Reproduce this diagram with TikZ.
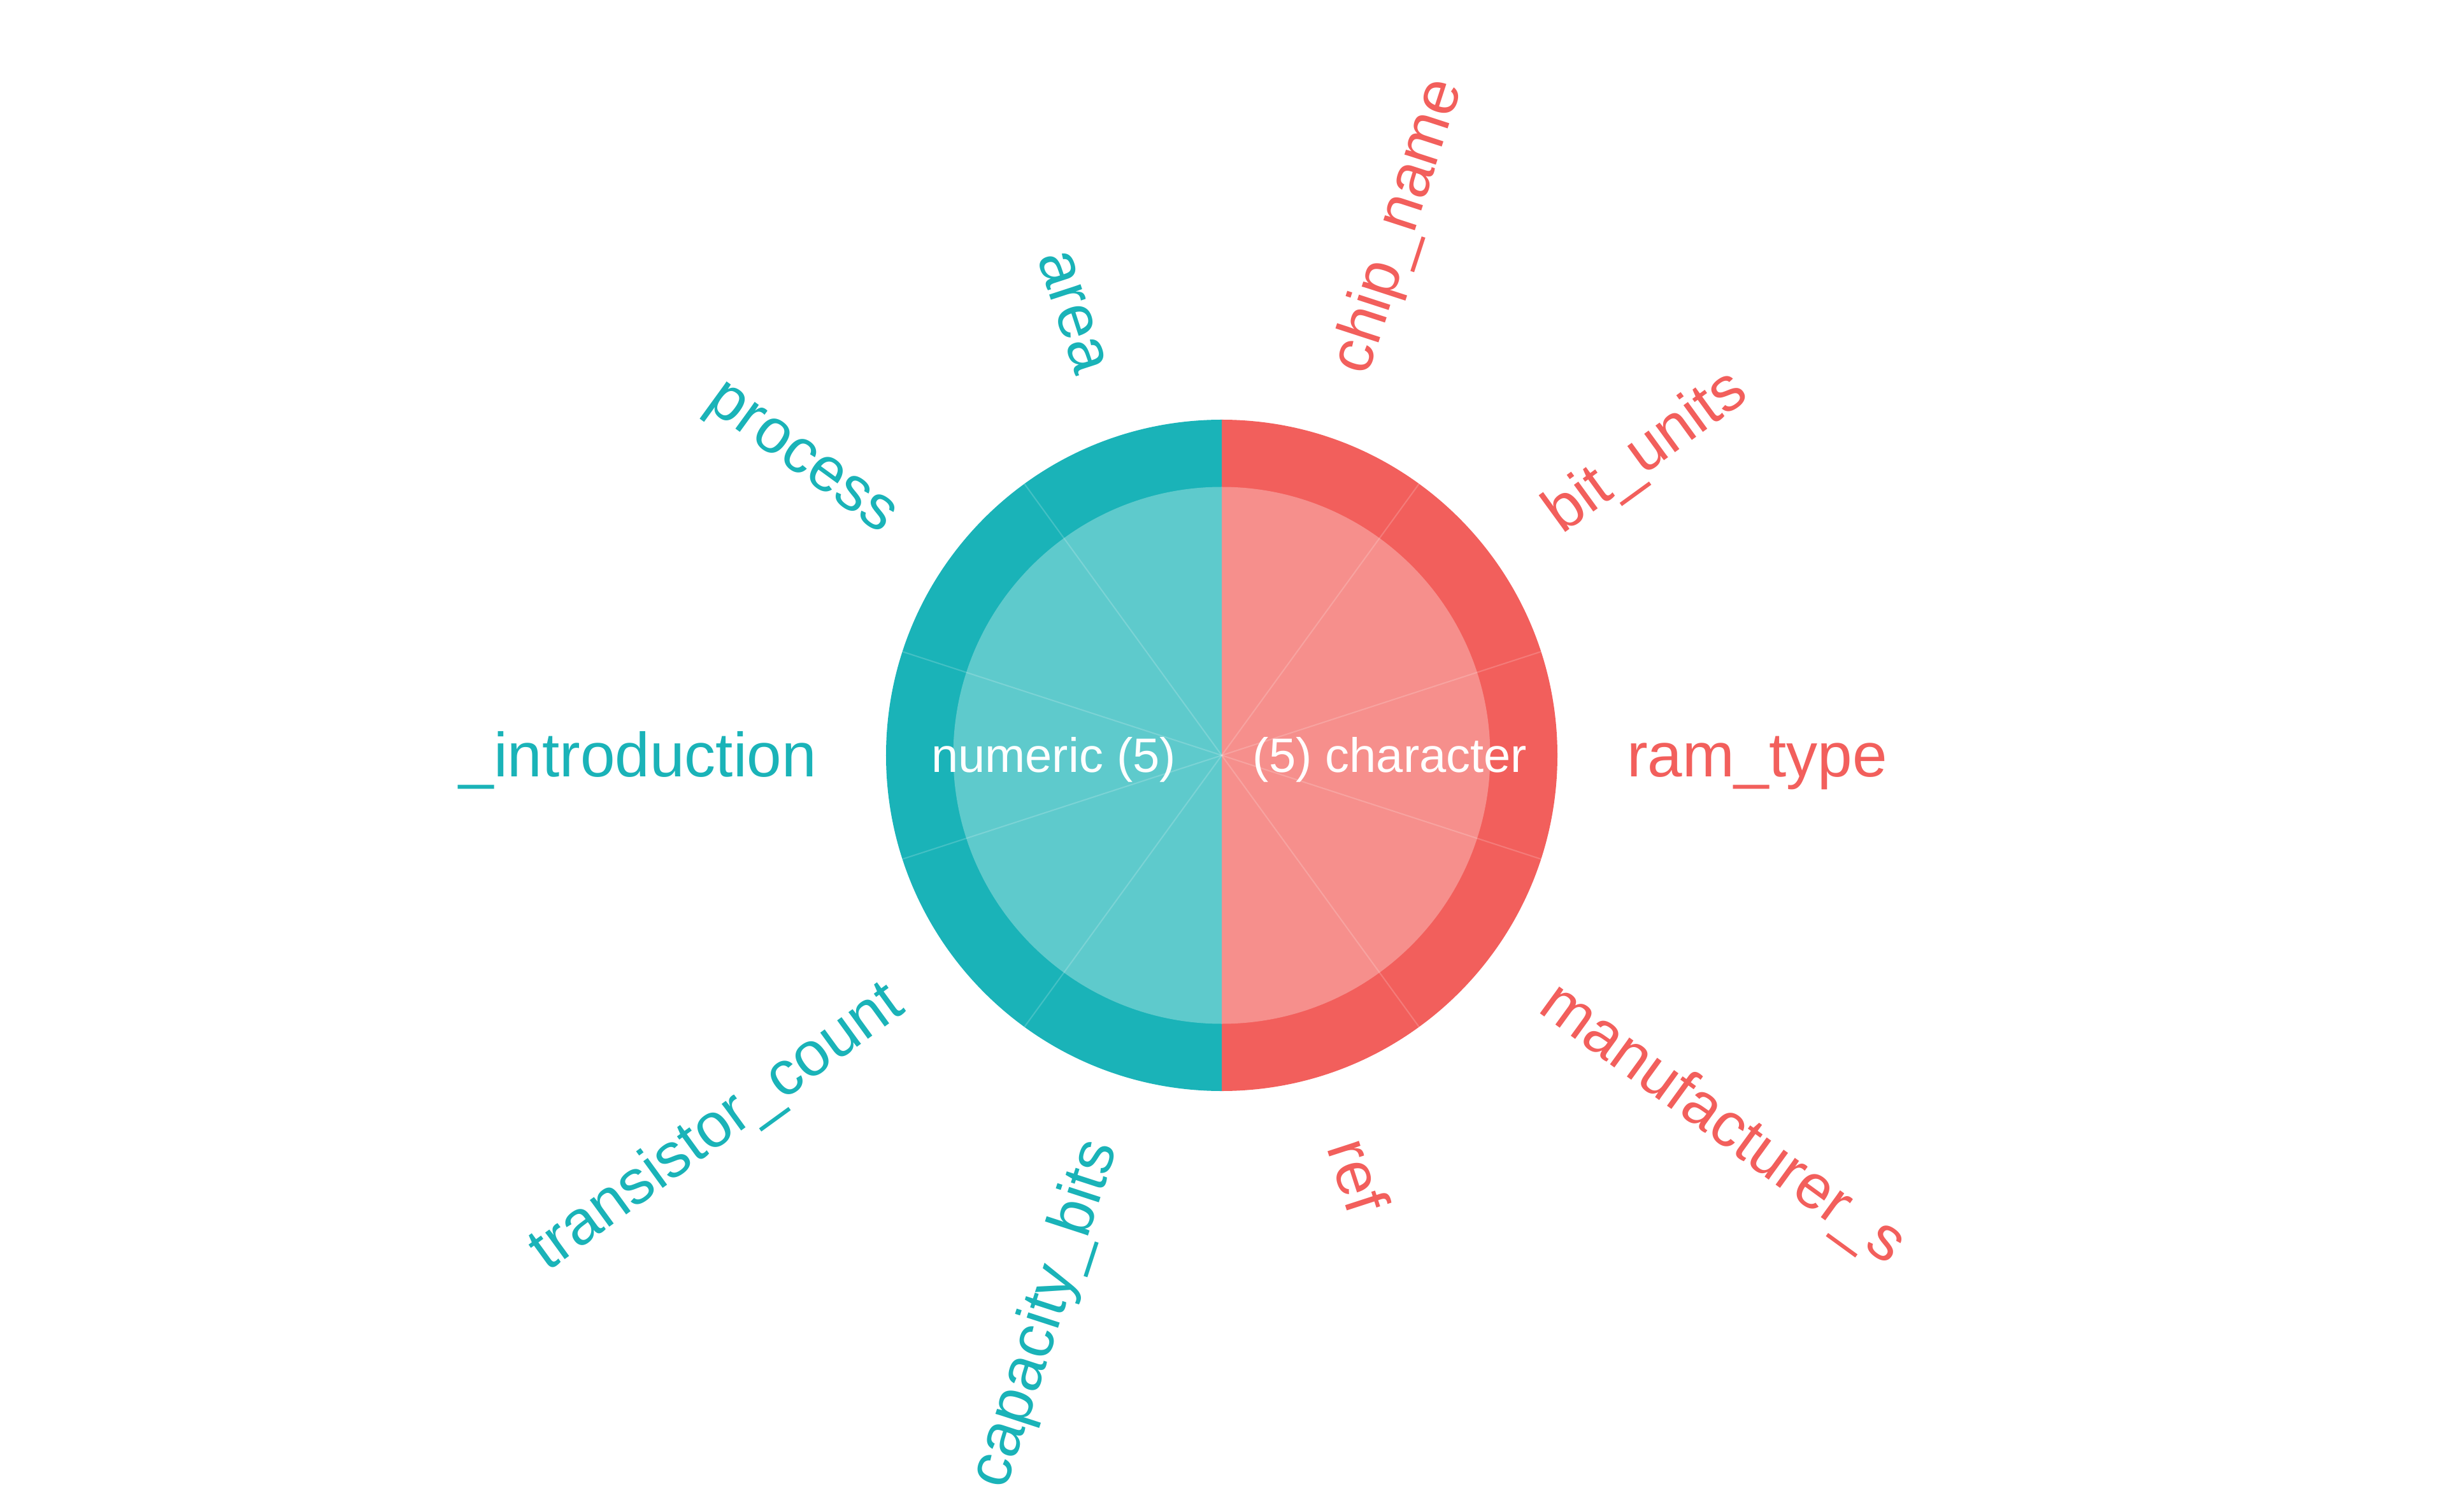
\documentclass[tikz,border=0pt]{standalone}
\usepackage{fontspec}
\setmainfont{Liberation Sans}
\definecolor{tealO}{RGB}{26,179,184}
\definecolor{tealI}{RGB}{94,202,204}
\definecolor{redO}{RGB}{242,95,92}
\definecolor{redI}{RGB}{246,143,140}
\tikzset{
  lab/.style={inner sep=0pt, outer sep=0pt, text height=25.25pt, text depth=5.91pt,
    font=\fontsize{27.9pt}{33pt}\selectfont},
  tlab/.style={lab, text=tealO, anchor=east},
  rlab/.style={lab, text=redO, anchor=west},
  clab/.style={inner sep=0pt, outer sep=0pt, text height=19.55pt, text depth=4.58pt,
    text=white, font=\fontsize{21.6pt}{26pt}\selectfont},
  seam/.style={draw=white, draw opacity=0.18, line width=0.6pt}
}
\begin{document}
\begin{tikzpicture}
\useasboundingbox (-19.18,-11.87) rectangle (19.22,11.86);
% outer ring
\fill[redO] (0,-5.27) arc[start angle=-90,end angle=90,radius=5.27] -- cycle;
\fill[tealO] (0,5.27) arc[start angle=90,end angle=270,radius=5.27] -- cycle;
% inner disk
\fill[redI] (0,-4.215) arc[start angle=-90,end angle=90,radius=4.215] -- cycle;
\fill[tealI] (0,4.215) arc[start angle=90,end angle=270,radius=4.215] -- cycle;
% seams
\coordinate (c) at (0,0);
\foreach \a in {54,18,-18,-54,126,162,198,234} {
  \draw[seam] (c) -- (\a:5.27);
}
% centre labels
\node[clab] (num) at (-2.64,0) {numeric (5)};
\node[clab] (chr) at (2.64,0) {(5) character};
% teal labels
\node[tlab, rotate=-72] (area) at (108:6.36) {area};
\node[tlab, rotate=-36] (process) at (144:6.36) {process};
\node[tlab, rotate=0] (intro) at (180:6.36) {\_introduction};
\node[tlab, rotate=36] (tcount) at (216:6.36) {transistor\_count};
\node[tlab, rotate=72] (cbits) at (252:6.36) {capacity\_bits};
% red labels
\node[rlab, rotate=72] (chip) at (72:6.36) {chip\_name};
\node[rlab, rotate=36] (bitu) at (36:6.36) {bit\_units};
\node[rlab, rotate=0] (ram) at (0:6.36) {ram\_type};
\node[rlab, rotate=-36] (manu) at (-36:6.36) {manufacturer\_s};
\node[rlab, rotate=-72] (ref) at (-72:6.36) {ref};
\end{tikzpicture}
\end{document}
